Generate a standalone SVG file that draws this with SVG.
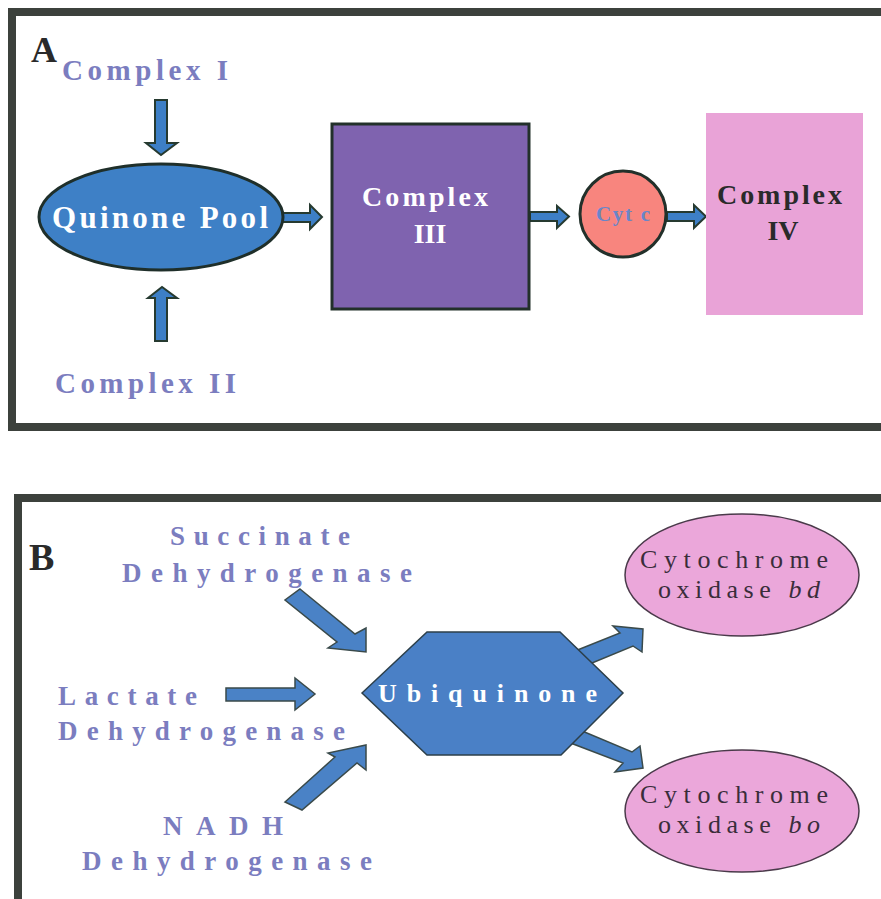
<svg xmlns="http://www.w3.org/2000/svg" width="881" height="899" viewBox="0 0 881 899">
<style>
.frame{fill:none;stroke:#3c413c;stroke-width:8}
.lbl{font-family:"Liberation Serif","Times New Roman",serif;font-weight:bold;fill:#7b7dbf}
.wht{font-family:"Liberation Serif","Times New Roman",serif;font-weight:bold;fill:#ffffff}
.dark{font-family:"Liberation Serif","Times New Roman",serif;font-weight:bold;fill:#2a2a2a}
.cyto{font-family:"Liberation Serif","Times New Roman",serif;font-weight:normal;fill:#3a2d3a}
.arrA{fill:#3d7fc6;stroke:#263a30;stroke-width:2;stroke-linejoin:miter}
.arrB{fill:#4a82c6;stroke:#3a4a4a;stroke-width:1.5;stroke-linejoin:miter}
</style>
<rect width="881" height="899" fill="#ffffff"/>

<!-- Panel frames -->
<g id="frameA">
  <rect class="frame" x="12" y="12" width="900" height="415"/>
  <text class="dark" x="31" y="62" font-size="36">A</text>
</g>
<g id="frameB">
  <rect class="frame" x="18" y="498" width="900" height="420"/>
  <text class="dark" x="29" y="570" font-size="38">B</text>
</g>

<!-- Connectors -->
<g id="connectors">
  <!-- Panel A -->
  <polygon class="arrA" points="155,100 167,100 167,143 177,143 161,155 146,143 155,143"/>
  <polygon class="arrA" points="155,341 167,341 167,298 177,298 162,287 148,298 155,298"/>
  <polygon class="arrA" points="283,213 310,213 310,205 322,217 310,229 310,222 283,222"/>
  <polygon class="arrA" points="530,212 557,212 557,206 569,216.5 557,228 557,221 530,221"/>
  <polygon class="arrA" points="667,212 694,212 694,205 706,216.5 694,228 694,221 667,221"/>
  <!-- Panel B -->
  <polygon class="arrB" points="300,589 355,634 366,628 366,652 328,648 337,642 285,600"/>
  <polygon class="arrB" points="226,688 295,688 295,678 315,694 295,710 295,701 226,701"/>
  <polygon class="arrB" points="285,802 335,757 328,753 366,745 366,770 357,763 302,810"/>
  <polygon class="arrB" points="565,655 620,633 613,626 643,629 642,652 633,646 575,670"/>
  <polygon class="arrB" points="575,728 632,752 640,746 643,768 615,772 623,763 568,742"/>
</g>

<!-- Panel A nodes -->
<g id="complexI">
  <text class="lbl" x="62" y="80" font-size="29" textLength="166" lengthAdjust="spacing">Complex I</text>
</g>
<g id="complexII">
  <text class="lbl" x="55" y="393" font-size="29" textLength="181" lengthAdjust="spacing">Complex II</text>
</g>
<g id="quinonePool">
  <ellipse cx="161" cy="217" rx="122" ry="53" fill="#3e80c6" stroke="#1f2f2a" stroke-width="3"/>
  <text class="wht" x="52" y="228" font-size="31" textLength="216" lengthAdjust="spacing">Quinone Pool</text>
</g>
<g id="complexIII">
  <rect x="332" y="124" width="197" height="185" fill="#7f63af" stroke="#22302a" stroke-width="3"/>
  <text class="wht" x="362" y="206" font-size="28" textLength="126" lengthAdjust="spacing">Complex</text>
  <text class="wht" x="430" y="243" font-size="28" text-anchor="middle">III</text>
</g>
<g id="cytc">
  <circle cx="623" cy="214" r="43" fill="#f8857e" stroke="#22302a" stroke-width="3"/>
  <text x="596" y="221" font-size="21" font-family="Liberation Serif, serif" font-weight="bold" fill="#6a85c8" textLength="54" lengthAdjust="spacing">Cyt c</text>
</g>
<g id="complexIV">
  <rect x="706" y="113" width="157" height="202" fill="#e9a3d7"/>
  <text class="dark" x="717" y="204" font-size="28" textLength="125" lengthAdjust="spacing">Complex</text>
  <text class="dark" x="783" y="240" font-size="28" text-anchor="middle">IV</text>
</g>

<!-- Panel B nodes -->
<g id="succinate">
  <text class="lbl" x="170" y="545" font-size="27" textLength="180" lengthAdjust="spacing">Succinate</text>
  <text class="lbl" x="122" y="582" font-size="27" textLength="290" lengthAdjust="spacing">Dehydrogenase</text>
</g>
<g id="lactate">
  <text class="lbl" x="58" y="705" font-size="27" textLength="139" lengthAdjust="spacing">Lactate</text>
  <text class="lbl" x="58" y="740" font-size="27" textLength="287" lengthAdjust="spacing">Dehydrogenase</text>
</g>
<g id="nadh">
  <text class="lbl" x="163" y="835" font-size="27" textLength="120" lengthAdjust="spacing">NADH</text>
  <text class="lbl" x="82" y="870" font-size="27" textLength="290" lengthAdjust="spacing">Dehydrogenase</text>
</g>
<g id="ubiquinone">
  <polygon points="362,693 427,632 560,632 623,693 561,755 427,755" fill="#4a80c6" stroke="#2c3f4a" stroke-width="1.5"/>
  <text class="wht" x="378" y="702" font-size="26" textLength="219" lengthAdjust="spacing">Ubiquinone</text>
</g>
<g id="oxidaseBd">
  <ellipse cx="742" cy="575" rx="117" ry="61" fill="#eba7da" stroke="#4a3a4a" stroke-width="1.5"/>
  <text class="cyto" x="640" y="568" font-size="26" textLength="188" lengthAdjust="spacing">Cytochrome</text>
  <text class="cyto" x="658" y="598" font-size="26" textLength="162" lengthAdjust="spacing">oxidase <tspan font-style="italic">bd</tspan></text>
</g>
<g id="oxidaseBo">
  <ellipse cx="742" cy="811" rx="117" ry="61" fill="#eba7da" stroke="#4a3a4a" stroke-width="1.5"/>
  <text class="cyto" x="640" y="803" font-size="26" textLength="188" lengthAdjust="spacing">Cytochrome</text>
  <text class="cyto" x="658" y="833" font-size="26" textLength="162" lengthAdjust="spacing">oxidase <tspan font-style="italic">bo</tspan></text>
</g>
</svg>
